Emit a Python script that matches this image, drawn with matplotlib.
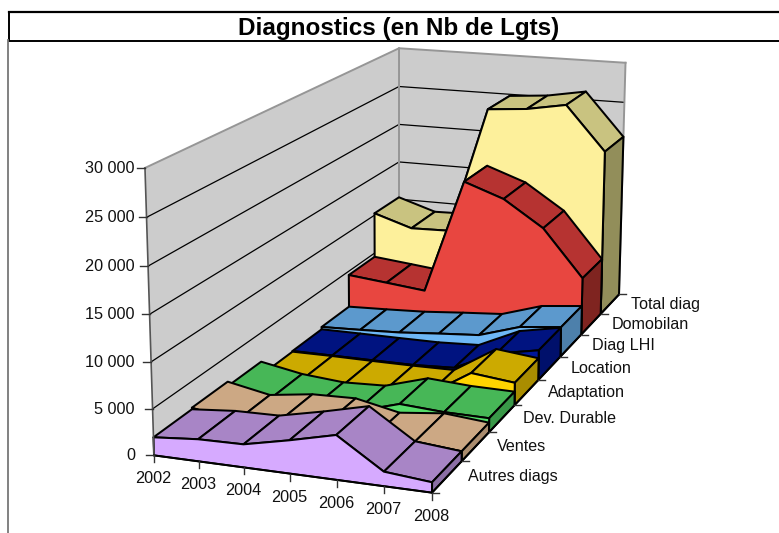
import numpy as np
import matplotlib
matplotlib.use('Agg')
import matplotlib.pyplot as plt
from matplotlib.patches import Polygon

plt.rcParams['font.family'] = ['Liberation Sans', 'DejaVu Sans']

years = ['2002', '2003', '2004', '2005', '2006', '2007', '2008']
series = ['Autres diags', 'Ventes', 'Dev. Durable', 'Adaptation', 'Location', 'Diag LHI', 'Domobilan', 'Total diag']

autres = [1950, 2370, 2460, 3520, 4700, 1520, 1080]
ventes = [2120, 1180, 1850, 1980, 960, 1500, 1070]
dev_durable = [1610, 720, 310, 500, 1940, 1630, 1560]
adaptation = [40, 60, 20, 10, 60, 3120, 2580]
location = [120, 120, 100, 100, 320, 2580, 3520]
diag_lhi = [410, 580, 790, 1190, 1540, 3070, 3580]
domobilan = [4510, 4010, 3490, 17650, 15930, 12760, 7040]
total_diag = [10250, 8730, 8860, 24790, 25180, 26030, 20600]
values = [autres, ventes, dev_durable, adaptation, location, diag_lhi, domobilan, total_diag]

z_max = 30000

# axes calibration: (x index, depth, value) -> pixel
ref3d = np.array([[0,0,0],[6,0,0],[6,8,0],[0,8,0],[0,0,z_max],[0,8,z_max],[6,8,z_max]], float)
ref2d = np.array([[154,455],[432,493],[619,294],[399,273],[145,168],[399,48],[625.5,63]], float)

def camera():
    s = ref3d / np.array([6., 8., z_max])
    A = []
    for (x,y,z),(u,v) in zip(s, ref2d):
        A.append([x,y,z,1,0,0,0,0,-u*x,-u*y,-u*z,-u])
        A.append([0,0,0,0,x,y,z,1,-v*x,-v*y,-v*z,-v])
    return np.linalg.svd(np.array(A))[2][-1].reshape(3,4)

P = camera()

def proj(x, y, z):
    q = P @ np.array([x/6., y/8., z/z_max, 1.])
    return q[0]/q[2], q[1]/q[2]

front = ['#d6aaff','#f5ca9e','#55dc68','#ffd400','#00179a','#6eb8f6','#e84640','#fdf09b']
top = ['#a885c6','#cca884','#47b757','#ccaa00','#001380','#5c99cd','#b63331','#c9c380']
side = ['#8b6ea5','#aa8c6e','#399848','#aa8d00','#00106b','#4d80ab','#7f2420','#928e5a']

fig = plt.figure(figsize=(7.79,5.33), dpi=100)
ax = fig.add_axes([0,0,1,1])
ax.set_xlim(0,779); ax.set_ylim(533,0); ax.axis('off')

# walls
ax.add_patch(Polygon([proj(0,0,0),proj(0,8,0),proj(0,8,z_max),proj(0,0,z_max)], fc='#cccccc', ec='none', zorder=0))
ax.add_patch(Polygon([proj(0,8,0),proj(6,8,0),proj(6,8,z_max),proj(0,8,z_max)], fc='#cccccc', ec='none', zorder=0))
for t in range(0, z_max+1, 5000):
    pts = [proj(0,0,t),proj(0,8,t),proj(6,8,t)]
    c = 'black' if t < z_max else '#969696'
    ax.plot(*zip(*pts), color=c, lw=0.9 if t < z_max else 1.4, zorder=0.5)
ax.plot(*zip(proj(0,8,0),proj(0,8,z_max)), color='#969696', lw=1.4, zorder=0.5)
ax.plot(*zip(proj(6,8,0),proj(6,8,z_max)), color='#969696', lw=1.4, zorder=0.5)

def poly(pts, c):
    ax.add_patch(Polygon(pts, fc=c, ec='black', lw=1.45, joinstyle='round', zorder=1))

# back to front, top faces first so that the front face covers the steep ones
for k in range(7,-1,-1):
    vals = values[k]
    for i in range(6):
        poly([proj(i,k,vals[i]),proj(i,k+1,vals[i]),proj(i+1,k+1,vals[i+1]),proj(i+1,k,vals[i+1])], top[k])
    poly([proj(6,k,0),proj(6,k+1,0),proj(6,k+1,vals[6]),proj(6,k,vals[6])], side[k])
    poly([proj(i,k,vals[i]) for i in range(7)] + [proj(6,k,0),proj(0,k,0)], front[k])

# axes lines and ticks
ax.plot(*zip(proj(0,0,0),proj(0,0,z_max)), color='#555555', lw=1.2, zorder=2)
ax.plot(*zip(proj(0,0,0),proj(6,0,0),proj(6,8,0)), color='black', lw=1.3, zorder=2)
for t in range(0, z_max+1, 5000):
    u, v = proj(0,0,t)
    ax.plot([u-8,u],[v,v], color='#333333', lw=1, zorder=2)
    ax.text(135, v+0.5, f'{t:,}'.replace(',',' '), ha='right', va='center', fontsize=11.7, color='#111111')
for i, lab in enumerate(years):
    u, v = proj(i,0,0)
    ax.plot([u,u],[v,v+7], color='#333333', lw=1, zorder=2)
    ax.text(u-0.5, v+23.5, lab, ha='center', va='center', fontsize=11.7, color='#111111')
for k in range(9):
    u, v = proj(6,k,0)
    ax.plot([u,u+7],[v,v], color='#333333', lw=1, zorder=2)
for k, lab in enumerate(series):
    u, v = proj(6,k+0.5,0)
    ax.text(u+21, v, lab, ha='left', va='center', fontsize=11.6, color='#111111')

# title box
ax.plot([779,9,9,779],[11.5,11.5,40.5,40.5], color='black', lw=1.4, solid_joinstyle='miter')
ax.plot([779,9],[11.5,11.5], color='black', lw=1.6)
ax.plot([8,8],[40,533], color='#777777', lw=1.3)
ax.text(399, 28, 'Diagnostics (en Nb de Lgts)', ha='center', va='center', fontsize=17.5, fontweight='bold', color='black')

fig.savefig('out.png', dpi=100)
